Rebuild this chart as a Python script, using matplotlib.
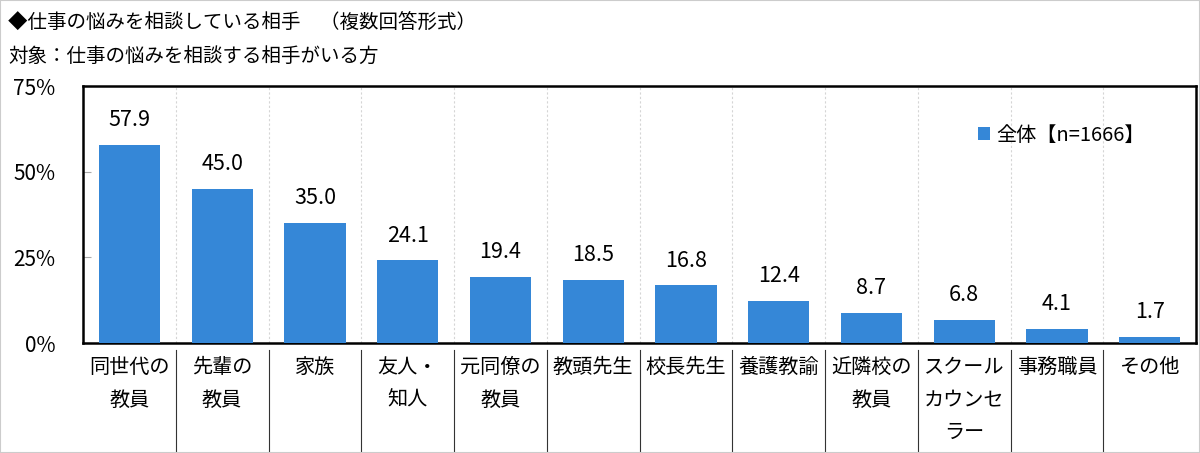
import matplotlib.pyplot as plt
import matplotlib.transforms as mtransforms
from matplotlib.patches import Rectangle
import numpy as np

plt.rcParams['font.family'] = ['Noto Sans CJK JP', 'DejaVu Sans']

categories = ["同世代の\n教員", "先輩の\n教員", "家族", "友人・\n知人", "元同僚の\n教員",
              "教頭先生", "校長先生", "養護教諭", "近隣校の\n教員", "スクール\nカウンセ\nラー",
              "事務職員", "その他"]
values = [57.9, 45.0, 35.0, 24.1, 19.4, 18.5, 16.8, 12.4, 8.7, 6.8, 4.1, 1.7]
yticks = [0, 25, 50, 75]
ytick_labels = ["0%", "25%", "50%", "75%"]
series_name = "全体【n=1666】"
title = "◆仕事の悩みを相談している相手　（複数回答形式）"
subtitle = "対象：仕事の悩みを相談する相手がいる方"

BAR_COLOR = "#3587D7"

fig = plt.figure(figsize=(12, 4.53), dpi=100)
ax = fig.add_axes([0.0692, 0.2428, 0.9275, 0.5673])

x = np.arange(len(categories))
bars = ax.bar(x, values, width=0.66, color=BAR_COLOR, label=series_name, zorder=3)

ax.set_xlim(-0.5, len(categories) - 0.5)
ax.set_ylim(0, 75)
ax.set_yticks(yticks)
ax.set_yticklabels(ytick_labels, fontsize=15)
ax.tick_params(axis='y', direction='in', length=6, color='#aaaaaa', pad=20)
ax.set_xticks([])

# dotted separators inside the plot
bounds = np.arange(0.5, len(categories) - 0.5, 1.0)
for b in bounds:
    ax.axvline(b, color='#d5d5d5', lw=0.8, ls=(0, (2, 2)), zorder=1)

# value labels
for xi, v in zip(x, values):
    ax.text(xi, v + 4.0, f"{v:.1f}", ha='center', va='bottom', fontsize=15.5)

# category labels and separators under the axis
trans = mtransforms.blended_transform_factory(ax.transData, ax.transAxes)
for xi, lab in zip(x, categories):
    ax.text(xi, -0.055, lab, transform=trans, ha='center', va='top',
            fontsize=14.5, linespacing=1.72)
for b in bounds:
    ax.plot([b, b], [-0.027, -0.43], transform=trans, color='#333333',
            lw=0.8, clip_on=False)

for s in ax.spines.values():
    s.set_linewidth(1.8)
    s.set_color('black')

leg = ax.legend(loc='upper right', bbox_to_anchor=(0.97, 0.92), frameon=False,
                fontsize=14.5, handlelength=0.6, handleheight=0.6, handletextpad=0.3)

fig.text(0.007, 0.948, title, fontsize=14, ha='left', va='center')
fig.text(0.007, 0.876, subtitle, fontsize=14, ha='left', va='center')

fig.patches.append(Rectangle((0, 0), 1, 1, transform=fig.transFigure, fill=False,
                             edgecolor='#cccccc', lw=1.5))

fig.savefig("out.png", dpi=100)
